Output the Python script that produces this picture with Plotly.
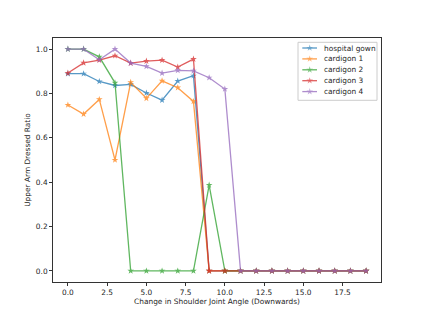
import plotly.graph_objects as go

x = list(range(20))
hospital_gown = [0.889, 0.889, 0.854, 0.836, 0.841, 0.802, 0.770, 0.856, 0.880] + [0.0] * 11
cardigon_1 = [0.748, 0.707, 0.773, 0.500, 0.850, 0.778, 0.857, 0.826, 0.764] + [0.0] * 11
cardigon_2 = [1.0, 1.0, 0.965, 0.848, 0.0, 0.0, 0.0, 0.0, 0.0, 0.387] + [0.0] * 10
cardigon_3 = [0.892, 0.938, 0.950, 0.970, 0.937, 0.946, 0.950, 0.919, 0.955] + [0.0] * 11
cardigon_4 = [1.0, 1.0, 0.952, 1.0, 0.937, 0.922, 0.892, 0.904, 0.902, 0.871, 0.820] + [0.0] * 9

names = ["hospital gown", "cardigon 1", "cardigon 2", "cardigon 3", "cardigon 4"]
series = [hospital_gown, cardigon_1, cardigon_2, cardigon_3, cardigon_4]
colors = ["#1f77b4", "#ff7f0e", "#2ca02c", "#d62728", "#9467bd"]
x_ticks = [0, 2.5, 5, 7.5, 10, 12.5, 15, 17.5]
y_ticks = [0, 0.2, 0.4, 0.6, 0.8, 1.0]

W, H = 423, 317
L, R, T, B = 53, 381, 38, 282

fig = go.Figure()
for n, s, c in zip(names, series, colors):
    fig.add_trace(go.Scatter(
        x=x, y=s, name=n, mode="lines+markers",
        line=dict(color=c, width=1.3),
        marker=dict(symbol="star", size=5, color=c, line=dict(width=0)),
        opacity=0.75, showlegend=False,
    ))

# manual legend drawn in pixel coordinates of the plot area (overlay axes)
font = dict(family="DejaVu Sans", size=7.4, color="#262626")
box = dict(x0=298, x1=377, y0=42.3, y1=100.3)
entry_y0, entry_dy = 48, 10.9
fig.add_shape(type="rect", xref="x2", yref="y2", x0=box["x0"], x1=box["x1"],
              y0=box["y0"], y1=box["y1"], line=dict(color="#cccccc", width=1),
              fillcolor="rgba(0,0,0,0)", layer="above")
for i, (n, c) in enumerate(zip(names, colors)):
    yy = entry_y0 + i * entry_dy
    fig.add_trace(go.Scatter(x=[302.3, 309.7, 317], y=[yy, yy, yy], xaxis="x2", yaxis="y2",
                             mode="lines+markers", line=dict(color=c, width=1.3),
                             marker=dict(symbol="star", size=[0, 5, 0], color=c, line=dict(width=0)),
                             opacity=0.75, showlegend=False, hoverinfo="skip", cliponaxis=False))
    fig.add_annotation(x=323, y=yy, xref="x2", yref="y2", text=n, showarrow=False,
                       xanchor="left", yanchor="middle", font=font, borderpad=0)

fig.update_layout(
    width=W, height=H,
    margin=dict(l=L, r=W - R, t=T, b=H - B),
    paper_bgcolor="white", plot_bgcolor="white",
    font=font,
    showlegend=False,
    xaxis2=dict(overlaying="x", range=[L, R], visible=False),
    yaxis2=dict(overlaying="y", range=[B, T], visible=False),
    xaxis=dict(range=[-0.95, 19.95], tickvals=x_ticks, ticktext=[f"{v:.1f}" for v in x_ticks],
               showline=True, mirror=True, linecolor="#333333", linewidth=0.8,
               ticks="outside", ticklen=3, tickwidth=0.8, tickcolor="#333333",
               showgrid=False, zeroline=False,
               title=dict(text="Change in Shoulder Joint Angle (Downwards)", standoff=3, font=font)),
    yaxis=dict(range=[-0.05, 1.05], tickvals=y_ticks, ticktext=[f"{v:.1f}" for v in y_ticks],
               showline=True, mirror=True, linecolor="#333333", linewidth=0.8,
               ticks="outside", ticklen=3, tickwidth=0.8, tickcolor="#333333",
               showgrid=False, zeroline=False,
               title=dict(text="Upper Arm Dressed Ratio", standoff=4, font=font)),
)
fig.write_html("out.html")
